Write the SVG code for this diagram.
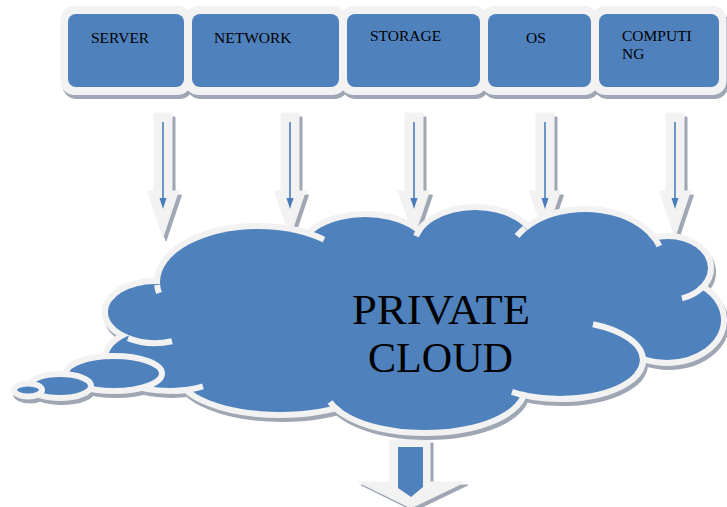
<svg xmlns="http://www.w3.org/2000/svg" xmlns:xlink="http://www.w3.org/1999/xlink" width="727" height="507" viewBox="0 0 727 507">
<style>
.sh{fill:#9ea7b3;stroke:#9ea7b3}
.lt{fill:#f2f2f2;stroke:#f2f2f2}
.bl{fill:#4f81bd;stroke:none}
.bub{fill:#4f81bd;stroke:#f2f2f2;stroke-width:6}
.bubsh{fill:#9ea7b3;stroke:#9ea7b3;stroke-width:6}
.lbl{font-family:"Liberation Serif","Times New Roman",serif;font-size:15.5px;fill:#000}
.big{font-family:"Liberation Serif","Times New Roman",serif;font-size:43px;fill:#000}
.tail{fill:none;stroke:#f2f2f2;stroke-width:6}
.ain{stroke:#4a7ebb;stroke-width:1.6}
</style>
<defs>
<g id="lobes">
<ellipse cx="155" cy="312" rx="47" ry="28"/>
<ellipse cx="258" cy="282" rx="98" ry="53"/>
<ellipse cx="365" cy="252" rx="62" ry="35"/>
<ellipse cx="475" cy="246" rx="58" ry="36"/>
<ellipse cx="585" cy="262" rx="75" ry="50"/>
<ellipse cx="668" cy="268" rx="40" ry="29"/>
<ellipse cx="667" cy="320" rx="54" ry="40"/>
<ellipse cx="560" cy="360" rx="80" ry="36"/>
<ellipse cx="425" cy="388" rx="97" ry="42"/>
<ellipse cx="280" cy="372" rx="100" ry="40"/>
<ellipse cx="170" cy="358" rx="62" ry="30"/>
</g>
<polygon id="dn" points="-9,113 9,113 9,191 15.5,191 0,237 -15.5,191 -9,191"/>
<g id="dnIn"><line x1="0" y1="122" x2="0" y2="200" class="ain"/><polygon points="-3.5,198 3.5,198 0,209" fill="#4a7ebb"/></g>
<polygon id="outArrow" points="390,440 430,440 430,482 465,482 411,508 358,482 390,482"/>
</defs>

<g id="box-shadows" class="sh" transform="translate(2,4)">
<rect x="61" y="6.5" width="130" height="88" rx="13"/>
<rect x="185" y="6.5" width="161" height="88" rx="13"/>
<rect x="340" y="6.5" width="147" height="88" rx="13"/>
<rect x="481" y="6.5" width="117" height="88" rx="13"/>
<rect x="592" y="6.5" width="134" height="88" rx="13"/>
</g>

<g id="server">
<rect class="lt" x="61" y="6.5" width="130" height="88" rx="13"/>
<rect class="bl" x="68" y="14" width="116" height="73" rx="8"/>
<text class="lbl" x="91" y="43">SERVER</text>
</g>
<g id="network">
<rect class="lt" x="185" y="6.5" width="161" height="88" rx="13"/>
<rect class="bl" x="192" y="14" width="147" height="73" rx="8"/>
<text class="lbl" x="214" y="43">NETWORK</text>
</g>
<g id="storage">
<rect class="lt" x="340" y="6.5" width="147" height="88" rx="13"/>
<rect class="bl" x="347" y="14" width="133" height="73" rx="8"/>
<text class="lbl" x="370" y="41">STORAGE</text>
</g>
<g id="os">
<rect class="lt" x="481" y="6.5" width="117" height="88" rx="13"/>
<rect class="bl" x="488" y="14" width="103" height="73" rx="8"/>
<text class="lbl" x="526" y="43">OS</text>
</g>
<g id="computing">
<rect class="lt" x="592" y="6.5" width="134" height="88" rx="13"/>
<rect class="bl" x="599" y="14" width="120" height="73" rx="8"/>
<text class="lbl" x="622" y="41">COMPUTI</text>
<text class="lbl" x="622" y="59">NG</text>
</g>

<g id="connectors">
<g transform="translate(163,0)"><use xlink:href="#dn" class="sh" transform="translate(3,4)" stroke="none"/><use xlink:href="#dn" class="lt" stroke="none"/><use xlink:href="#dnIn"/></g>
<g transform="translate(290,0)"><use xlink:href="#dn" class="sh" transform="translate(3,4)" stroke="none"/><use xlink:href="#dn" class="lt" stroke="none"/><use xlink:href="#dnIn"/></g>
<g transform="translate(414,0)"><use xlink:href="#dn" class="sh" transform="translate(3,4)" stroke="none"/><use xlink:href="#dn" class="lt" stroke="none"/><use xlink:href="#dnIn"/></g>
<g transform="translate(545,0)"><use xlink:href="#dn" class="sh" transform="translate(3,4)" stroke="none"/><use xlink:href="#dn" class="lt" stroke="none"/><use xlink:href="#dnIn"/></g>
<g transform="translate(675,0)"><use xlink:href="#dn" class="sh" transform="translate(3,4)" stroke="none"/><use xlink:href="#dn" class="lt" stroke="none"/><use xlink:href="#dnIn"/></g>
<g id="out-arrow">
<use xlink:href="#outArrow" class="sh" transform="translate(3,3)" stroke="none"/>
<use xlink:href="#outArrow" class="lt" stroke="none"/>
<polygon points="398,447 423,447 423,487 411,497 398,488" fill="#4f81bd"/>
</g>
</g>

<g id="private-cloud">
<use xlink:href="#lobes" class="sh" stroke-width="12" transform="translate(2,4)"/>
<g class="bubsh" transform="translate(2,4)">
<ellipse cx="114" cy="373.5" rx="48" ry="17.5"/>
<ellipse cx="60" cy="386" rx="31" ry="12"/>
<ellipse cx="28" cy="390" rx="14" ry="6.5"/>
</g>
<use xlink:href="#lobes" class="lt" stroke-width="12"/>
<use xlink:href="#lobes" class="bl"/>
<ellipse class="bl" cx="420" cy="312" rx="250" ry="70"/>
<path class="tail" d="M157.1 285 A101 56 0 0 0 159 293"/>
<path class="tail" d="M128 338.1 A50 31 0 0 0 172 341.2"/>
<path class="tail" d="M175 390.9 A65 33 0 0 0 203 386.4"/>
<path class="tail" d="M340 411.7 A100 45 0 0 1 330 402"/>
<path class="tail" d="M525 395.4 A83 39 0 0 1 512 391.8"/>
<path class="tail" d="M593 324.2 A83 39 0 0 1 643 360 A83 39 0 0 1 637 374.5"/>
<path class="tail" d="M702 287.6 A43 32 0 0 1 682 298.3"/>
<path class="tail" d="M650 232.7 A78 53 0 0 1 659.4 246"/>
<path class="tail" d="M525 228.1 A78 53 0 0 0 517 236"/>
<path class="tail" d="M421 227.9 A61 39 0 0 0 416 236.1"/>
<path class="tail" d="M309 233.7 A101 56 0 0 1 324 239.6"/>
<ellipse class="bub" cx="114" cy="373.5" rx="48" ry="17.5"/>
<ellipse class="bub" cx="60" cy="386" rx="31" ry="12"/>
<ellipse class="bub" cx="28" cy="390" rx="14" ry="6.5"/>
<text class="big" x="352" y="324" textLength="178" lengthAdjust="spacingAndGlyphs">PRIVATE</text>
<text class="big" x="368" y="372" textLength="145" lengthAdjust="spacingAndGlyphs">CLOUD</text>
</g>
</svg>
